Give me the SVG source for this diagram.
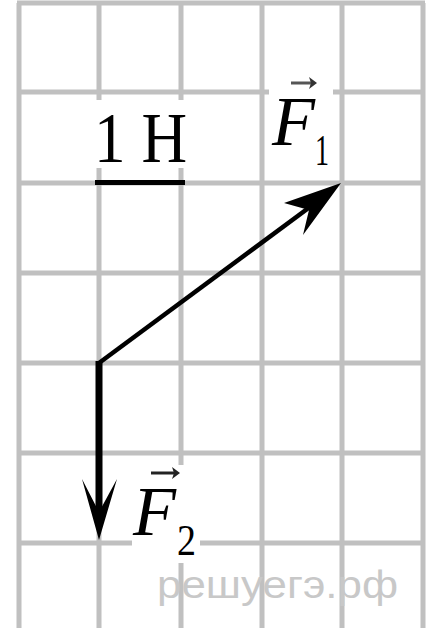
<svg xmlns="http://www.w3.org/2000/svg" width="433" height="628" viewBox="0 0 433 628">
<style>
.grid line{stroke:#c0c0c0;stroke-width:5}
.lbl{font-family:"Liberation Serif","Times New Roman",serif;fill:#000}
.it{font-style:italic}
.wm{font-family:"Liberation Sans",Arial,sans-serif;fill:#c8c8c8;font-size:39px}
</style>
<rect width="433" height="628" fill="#fff"/>
<g class="grid" id="grid">
<line x1="19" y1="3" x2="19" y2="628"/>
<line x1="99" y1="3" x2="99" y2="628"/>
<line x1="181" y1="3" x2="181" y2="628"/>
<line x1="262" y1="3" x2="262" y2="628"/>
<line x1="342" y1="3" x2="342" y2="628"/>
<line x1="423" y1="3" x2="423" y2="628"/>
<line x1="17" y1="3" x2="425" y2="3"/>
<line x1="17" y1="92" x2="425" y2="92"/>
<line x1="17" y1="183" x2="425" y2="183"/>
<line x1="17" y1="273" x2="425" y2="273"/>
<line x1="17" y1="363" x2="425" y2="363"/>
<line x1="17" y1="453" x2="425" y2="453"/>
<line x1="17" y1="543" x2="425" y2="543"/>
</g>
<text class="wm" x="157" y="598" textLength="241" lengthAdjust="spacingAndGlyphs">решуегэ.рф</text>
<g id="scale">
<rect x="94" y="100" width="94" height="68" fill="#fff"/>
<text class="lbl" x="94" y="162" font-size="72" textLength="93" lengthAdjust="spacingAndGlyphs">1 H</text>
<line x1="95" y1="182.5" x2="185" y2="182.5" stroke="#000" stroke-width="5"/>
</g>
<g id="connectors">
<line x1="99" y1="363" x2="318" y2="201" stroke="#000" stroke-width="4.5"/>
<polygon points="341,183 284,203 309,210 303,235" fill="#000"/>
<line x1="99" y1="361" x2="99" y2="520" stroke="#000" stroke-width="7"/>
<polygon points="99,540 82,479 99,512 117,479" fill="#000"/>
</g>
<g id="F1">
<rect x="269" y="72" width="64" height="98" fill="#fff"/>
<text class="lbl it" x="272" y="145" font-size="70" textLength="43" lengthAdjust="spacingAndGlyphs">F</text>
<line x1="291" y1="83" x2="313" y2="83" stroke="#555" stroke-width="3"/>
<polygon points="317,83 309,77 311,83 309,89" fill="#333"/>
<text class="lbl" x="315" y="165" font-size="44" textLength="14" lengthAdjust="spacingAndGlyphs" fill="#444">1</text>
</g>
<g id="F2">
<rect x="132" y="465" width="68" height="98" fill="#fff"/>
<text class="lbl it" x="133" y="535" font-size="70" textLength="43" lengthAdjust="spacingAndGlyphs">F</text>
<line x1="151" y1="473" x2="176" y2="473" stroke="#222" stroke-width="3"/>
<polygon points="180,473 172,467 174,473 172,479" fill="#222"/>
<text class="lbl" x="177" y="555" font-size="44" textLength="19" lengthAdjust="spacingAndGlyphs">2</text>
</g>
</svg>
